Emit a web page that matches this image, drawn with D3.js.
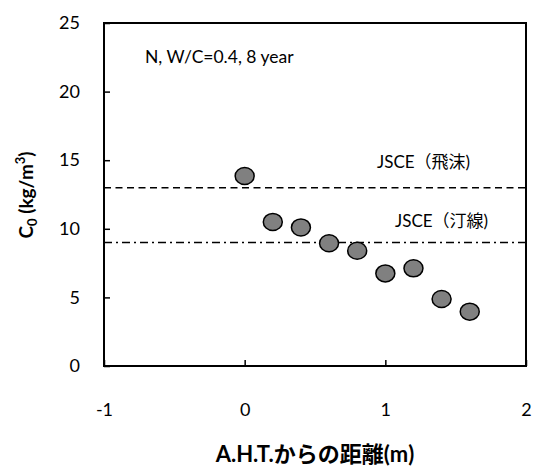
<!DOCTYPE html>
<html>
<head>
<meta charset="utf-8">
<script src="https://cdn.jsdelivr.net/npm/d3@7"></script>
<style>
  body { margin: 0; background: #fff; }
  svg text { font-family: Lato, "Noto Sans CJK JP", sans-serif; fill: #000; }
</style>
</head>
<body>
<svg id="chart" width="537" height="469"></svg>
<script>
// Distance from A.H.T. (m) and surface chloride content C0 (kg/m3)
const distances = [0, 0.2, 0.4, 0.6, 0.8, 1.0, 1.2, 1.4, 1.6];
const c0Values = [13.85, 10.5, 10.1, 8.95, 8.4, 6.75, 7.12, 4.88, 3.96];

// JSCE reference levels
const refNames = ["JSCE（飛沫)", "JSCE（汀線)"];
const refValues = [13.0, 9.0];

const xTicks = [-1, 0, 1, 2];
const yTicks = [0, 5, 10, 15, 20, 25];

const svg = d3.select("#chart");
const plotL = 104, plotR = 526, plotT = 23, plotB = 366;

const x = d3.scaleLinear().domain([-1, 2]).range([plotL, plotR]);
const y = d3.scaleLinear().domain([0, 25]).range([plotB, plotT]);

// plot frame
svg.append("rect")
  .attr("x", plotL).attr("y", plotT)
  .attr("width", plotR - plotL).attr("height", plotB - plotT)
  .attr("fill", "none").attr("stroke", "#000").attr("stroke-width", 2);

// axes with inward ticks
const yAxis = svg.append("g")
  .attr("transform", `translate(${plotL},0)`)
  .call(d3.axisLeft(y).tickValues(yTicks).tickSize(-6).tickPadding(24));
const xAxis = svg.append("g")
  .attr("transform", `translate(0,${plotB})`)
  .call(d3.axisBottom(x).tickValues(xTicks).tickSize(-6).tickPadding(37)
    .tickFormat(d => d < 0 ? "-" + Math.abs(d) : d));
[yAxis, xAxis].forEach(g => {
  g.select(".domain").remove();
  g.selectAll("line").attr("stroke", "#000").attr("stroke-width", 1.5);
  g.selectAll("text").attr("font-size", 18).attr("fill", "#000")
    .style("font-family", "Lato, sans-serif");
});

// reference lines
const dashes = ["7,4.5", "8,4,2,4"];
refValues.forEach((v, i) => {
  svg.append("line")
    .attr("x1", plotL).attr("x2", plotR)
    .attr("y1", y(v)).attr("y2", y(v))
    .attr("stroke", "#000").attr("stroke-width", 1.5)
    .attr("stroke-dasharray", dashes[i]);
});
const refLabelX = [377, 395];
const refLabelY = [168, 227];
refNames.forEach((n, i) => {
  svg.append("text")
    .attr("x", refLabelX[i]).attr("y", refLabelY[i])
    .attr("font-size", 17)
    .text(n);
});

// data points
svg.append("g").selectAll("ellipse")
  .data(distances.map((d, i) => [d, c0Values[i]]))
  .join("ellipse")
  .attr("cx", d => x(d[0]))
  .attr("cy", d => y(d[1]))
  .attr("rx", 9.5).attr("ry", 8.5)
  .attr("fill", "#808080")
  .attr("stroke", "#000").attr("stroke-width", 1.5);

// condition note
svg.append("text")
  .attr("x", 145).attr("y", 63)
  .attr("font-size", 17.5)
  .text("N, W/C=0.4, 8 year");

// axis titles
svg.append("text")
  .attr("transform", "translate(33,195) rotate(-90)")
  .attr("text-anchor", "middle")
  .attr("font-size", 19).attr("font-weight", "bold")
  .html('C<tspan font-size="13" dy="4">0</tspan><tspan dy="-4"> (kg/m</tspan><tspan font-size="13" dy="-8">3</tspan><tspan dy="8">)</tspan>');

svg.append("text")
  .attr("x", (plotL + plotR) / 2).attr("y", 462)
  .attr("text-anchor", "middle")
  .attr("font-size", 22).attr("font-weight", "bold")
  .text("A.H.T.からの距離(m)");
</script>
</body>
</html>
